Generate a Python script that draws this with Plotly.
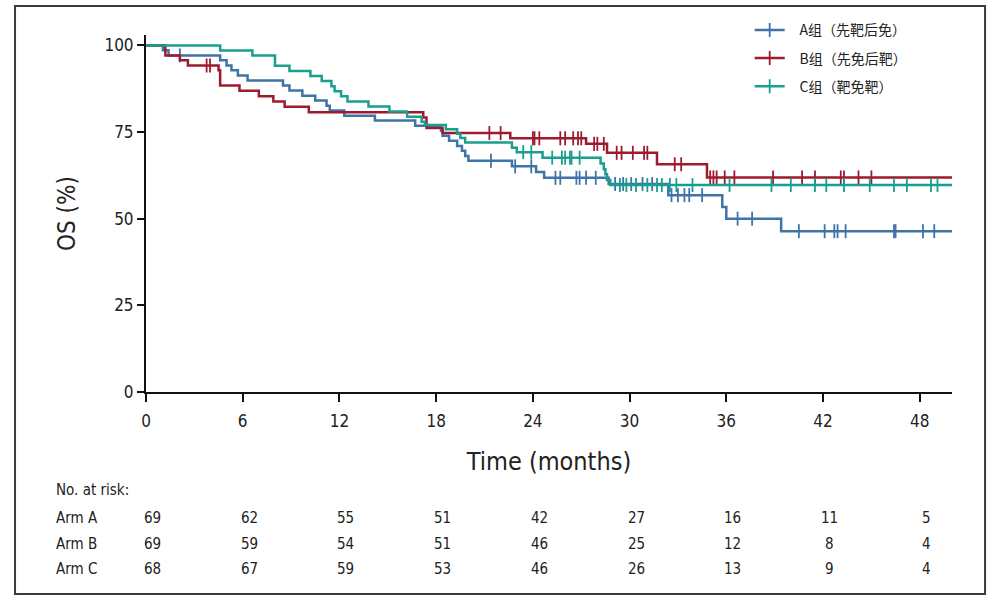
import plotly.graph_objects as go

# ---- data ----
arm_names = ["A组（先靶后免）", "B组（先免后靶）", "C组（靶免靶）"]
colors = ["#3f74a8", "#9e1b2f", "#1a9e8e"]

a_t = [0, 1.05, 1.4, 4.6, 5.0, 5.3, 5.7, 6.3, 8.5, 8.9, 9.7, 10.5, 11.2, 11.4, 12.3, 14.2, 16.7, 18.3,
       18.4, 18.8, 19.3, 19.6, 19.8, 20.0, 22.7, 24.2, 24.7, 28.7, 32.4, 35.75, 36.0, 39.4, 50]
a_s = [100, 98.6, 97.1, 95.7, 94.2, 92.8, 91.3, 89.9, 88.4, 87.0, 85.5, 84.1, 82.6, 81.2, 79.7, 78.3, 76.8, 75.4,
       73.9, 72.5, 71.0, 69.6, 68.1, 66.7, 65.1, 63.5, 61.8, 60.0, 56.8, 53.4, 50.0, 46.4, 46.4]
a_cens = [2.1, 21.4, 22.9, 23.9, 25.4, 25.7, 26.7, 26.9, 27.3, 27.9, 29.1, 29.6, 30.1, 30.8, 31.4, 32.6, 33.0,
          33.4, 33.7, 34.5, 36.7, 37.6, 40.5, 42.1, 42.7, 42.9, 43.4, 46.4, 46.5, 48.2, 48.9]

b_t = [0, 1.2, 2.1, 2.6, 4.5, 4.6, 5.8, 7.0, 7.9, 8.6, 10.1, 17.2, 17.4, 18.4, 22.6, 27.3, 28.6, 31.7, 34.8, 50]
b_s = [100, 97.1, 95.7, 94.2, 92.8, 88.4, 86.9, 85.3, 83.8, 82.3, 80.7, 79.2, 76.2, 74.7, 73.2, 71.6, 69.0,
       65.7, 61.9, 61.9]
b_cens = [3.76, 3.97, 21.3, 22.0, 24.0, 24.1, 24.4, 25.7, 26.0, 26.5, 26.8, 27.0, 27.8, 28.0, 28.4, 29.2, 29.5,
          30.2, 30.9, 31.1, 32.8, 33.2, 35.0, 35.2, 35.4, 35.9, 36.5, 38.9, 40.7, 41.5, 43.1, 43.3, 44.2, 45.0]

c_t = [0, 4.6, 6.6, 8.0, 8.9, 10.2, 10.9, 11.5, 11.7, 12.1, 12.5, 13.8, 15.1, 16.2, 17.1, 17.3, 18.6, 19.3,
       19.5, 19.8, 22.7, 23.0, 24.6, 28.2, 28.4, 28.5, 28.6, 28.8, 50]
c_s = [100, 98.5, 97.1, 94.1, 92.6, 91.2, 89.7, 88.2, 86.8, 85.3, 83.8, 82.4, 80.9, 79.4, 78.0, 77.0, 75.8, 74.5,
       73.3, 72.0, 70.5, 69.2, 67.6, 65.9, 64.3, 62.8, 61.2, 59.7, 59.7]
c_cens = [23.4, 23.9, 25.2, 25.8, 26.0, 26.3, 26.4, 26.9, 29.4, 29.8, 30.4, 31.1, 31.7, 32.0, 32.5, 32.9, 33.9,
          36.2, 38.8, 40.0, 41.5, 42.2, 43.3, 44.9, 46.4, 47.2, 48.7, 49.1]

risk_times = [0, 6, 12, 18, 24, 30, 36, 42, 48]
risk_labels = ["Arm A", "Arm B", "Arm C"]
risk_a = [69, 62, 55, 51, 42, 27, 16, 11, 5]
risk_b = [69, 59, 54, 51, 46, 25, 12, 8, 4]
risk_c = [68, 67, 59, 53, 46, 26, 13, 9, 4]

x_ticks = [0, 6, 12, 18, 24, 30, 36, 42, 48]
y_ticks = [0, 25, 50, 75, 100]

FONT = "Liberation Sans Narrow, DejaVu Sans Condensed, Arial Narrow, sans-serif"
CJK = "Noto Sans CJK SC, sans-serif"


def surv_at(ts, ss, t):
    val = ss[0]
    for ti, si in zip(ts, ss):
        if ti <= t:
            val = si
        else:
            break
    return val


fig = go.Figure()
curves = [(a_t, a_s, a_cens), (b_t, b_s, b_cens), (c_t, c_s, c_cens)]
for i, (ts, ss, cens) in enumerate(curves):
    col = colors[i]
    fig.add_trace(go.Scatter(x=ts, y=ss, mode="lines", line=dict(color=col, width=2.5, shape="hv"),
                             showlegend=False, legendgroup=f"g{i}", hoverinfo="skip"))
    fig.add_trace(go.Scatter(x=cens, y=[surv_at(ts, ss, c) for c in cens], mode="markers",
                             marker=dict(symbol="line-ns-open", size=10, color=col,
                                         line=dict(color=col, width=1.8)),
                             showlegend=False, legendgroup=f"g{i}", hoverinfo="skip"))
    fig.add_trace(go.Scatter(x=[None], y=[None], mode="lines+markers",
                             name="\u2002\u2009" + arm_names[i],
                             line=dict(color=col, width=2.5),
                             marker=dict(symbol="line-ns-open", size=10, color=col,
                                         line=dict(color=col, width=1.8)),
                             legendgroup=f"g{i}"))

# number at risk table
rows = [risk_a, risk_b, risk_c]
row_y = [-0.352, -0.425, -0.496]
fig.add_annotation(text="No. at risk:", xref="paper", yref="paper", x=-0.114, y=-0.275,
                   xanchor="left", yanchor="middle", showarrow=False,
                   font=dict(family=FONT, size=15, color="#222"))
for lab, vals, yy in zip(risk_labels, rows, row_y):
    fig.add_annotation(text=lab, xref="paper", yref="paper", x=-0.114, y=yy, xanchor="left",
                       yanchor="middle", showarrow=False, font=dict(family=FONT, size=15, color="#222"))
    for t, v in zip(risk_times, vals):
        fig.add_annotation(text=str(v), xref="x", yref="paper", x=t + 0.4, y=yy, xanchor="center",
                           yanchor="middle", showarrow=False, font=dict(family=FONT, size=15, color="#222"))

# outer frame
fig.add_shape(type="rect", xref="paper", yref="paper", x0=-0.1625, x1=1.041, y0=-0.566, y1=1.081,
              line=dict(color="#3a3a3a", width=2), fillcolor="rgba(0,0,0,0)", layer="below")

fig.update_layout(
    width=1001, height=608,
    margin=dict(l=146, r=49, t=35, b=216),
    plot_bgcolor="white", paper_bgcolor="white",
    font=dict(family=FONT, color="#222"),
    legend=dict(x=0.749, y=1.058, xanchor="left", yanchor="top", tracegroupgap=7,
                font=dict(family=CJK, size=14, color="#222"), itemwidth=30,
                bgcolor="rgba(0,0,0,0)"),
    xaxis=dict(range=[0, 50], tickvals=x_ticks, ticks="outside", ticklen=8, tickwidth=2,
               tickcolor="#111", showline=True, linecolor="#111", linewidth=2, showgrid=False,
               zeroline=False, tickfont=dict(family=FONT, size=17, color="#222"),
               ticklabelstandoff=5,
               title=dict(text="Time (months)", font=dict(family=FONT, size=25, color="#222"),
                          standoff=22)),
    yaxis=dict(range=[0, 103], tickvals=y_ticks, ticks="outside", ticklen=7, tickwidth=2,
               tickcolor="#111", showline=True, linecolor="#111", linewidth=2, showgrid=False,
               zeroline=False, tickfont=dict(family=FONT, size=17, color="#222"),
               title=dict(text="OS (%)", font=dict(family=FONT, size=24, color="#222"),
                          standoff=22)),
)

fig.write_html("out.html")
